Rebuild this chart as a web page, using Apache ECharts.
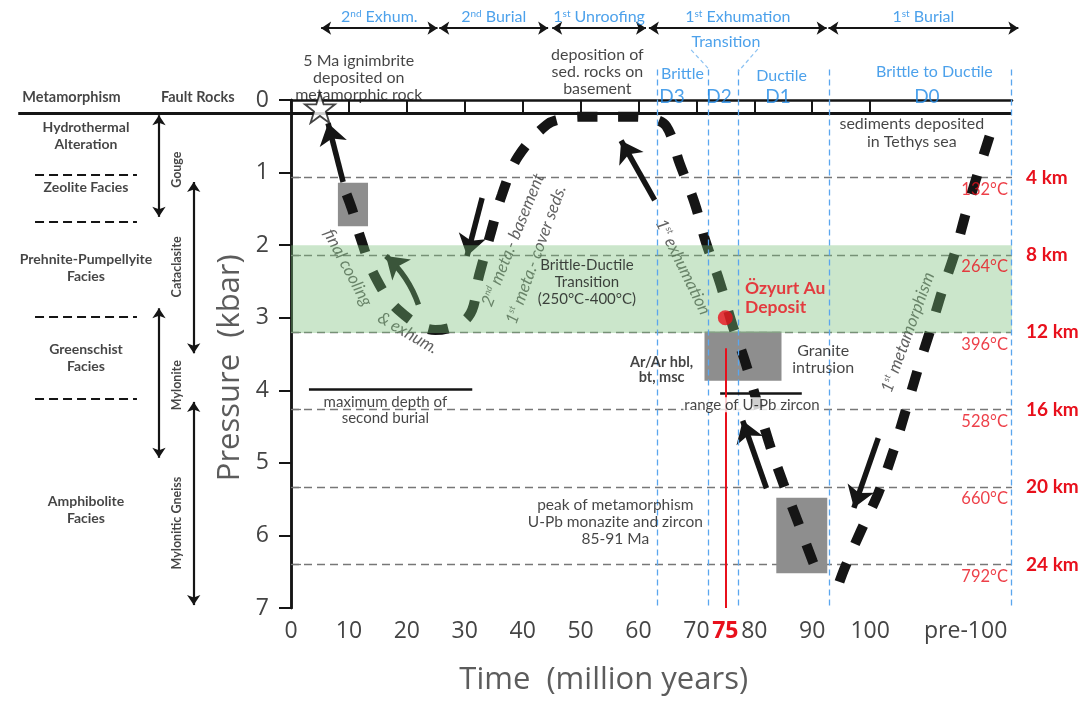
<!DOCTYPE html>
<html>
<head>
<meta charset="utf-8">
<script src="https://cdn.jsdelivr.net/npm/echarts@6/dist/echarts.min.js"></script>
<style>
  html, body { margin: 0; padding: 0; background: #fff; }
  #chart { width: 1086px; height: 702px; }
</style>
</head>
<body>
<div id="chart"></div>
<script>
// ---- axes -------------------------------------------------------------
const AGE_MAX = 124.5;          // right edge of the time axis (pre-100 zone)
const P_MAX = 7;                // kbar
const KM_MAX = 26.25;           // depth equivalent of P_MAX
const ageTicks = [0, 10, 20, 30, 40, 50, 60, 70, 80, 90, 100];
const ageLabelValues = [0, 10, 20, 30, 40, 50, 60, 70, 75, 80, 90, 100, 116.5];
const depthKm = [4, 8, 12, 16, 20, 24];
const depthTempC = [132, 264, 396, 528, 660, 792];

// ---- pressure-time paths (age in Ma, pressure in kbar) ------------------
// 2nd exhumation <- 2nd burial <- 1st unroofing <- 1st exhumation
const pathAge = [9.6, 10.6, 12.0, 14.5, 18.5, 24.9, 30.6, 32.5, 34.4, 36.4, 39.2, 44.2, 47.5, 50.8, 58.0, 62.0,
                 64.8, 67.1, 69.7, 71.6, 74.0, 76.3, 78.4, 82.5, 85.0, 87.6, 90.1, 90.7];
const pathP   = [1.30, 1.52, 1.90, 2.43, 2.89, 3.17, 2.99, 2.41, 1.86, 1.31, 0.78, 0.34, 0.25, 0.23, 0.23, 0.25,
                 0.36, 0.87, 1.42, 1.95, 2.50, 3.12, 3.60, 4.71, 5.28, 5.83, 6.36, 6.47];
// 1st burial (prograde metamorphism)
const burialAge = [94.7, 95.6, 98.5, 101.4, 104.0, 106.1, 108.4, 110.4, 112.4, 114.7, 116.7, 118.95, 121.25, 121.6];
const burialP   = [6.64, 6.45, 5.92, 5.42, 4.84, 4.29, 3.67, 3.17, 2.64, 2.09, 1.51, 0.92, 0.34, 0.24];

// ---- dated boxes [age1, P1, age2, P2] ----------------------------------
const boxes = [
  [8.1, 1.14, 13.3, 1.74],     // 5-13 Ma cooling
  [71.4, 3.19, 84.7, 3.87],    // granite intrusion / Ar-Ar
  [83.8, 5.48, 92.6, 6.52]     // peak metamorphism 85-91 Ma
];
const brittleDuctileBand = [[0, 2.0, AGE_MAX, 3.21]];
const deposit = [[75, 3.0]];
const ignimbrite = [[5, 0.11]];

// ---- process arrows [age1, P1, age2, P2, curveness] --------------------
const arrows = [
  [9.0, 1.13, 6.4, 0.32, 0],
  [22.0, 2.82, 16.4, 2.15, -0.13],
  [33.0, 1.35, 30.4, 2.15, 0],
  [62.8, 1.38, 57.0, 0.56, 0],
  [82.1, 5.35, 78.0, 4.42, 0],
  [101.4, 4.66, 97.2, 5.62, 0]
];

// ---- stage divisions (Ma) ----------------------------------------------
const stageBounds = [63.2, 72.1, 77.3, 92.9, 124.3];
const stageNames = ['2{s|nd} Exhum.', '2{s|nd} Burial', '1{s|st} Unroofing', '1{s|st} Exhumation', '1{s|st} Burial'];
const stageSpans = [[5.2, 25.3], [25.6, 44.4], [45.1, 61.3], [61.8, 92.5], [92.8, 125.6]];

const BLUE = '#1f8ae6';
const RED = '#e8101c';
const INK = '#151515';
const SANS = 'Lato, "Noto Sans", sans-serif';
const AXF = '"Open Sans", "Noto Sans", sans-serif';
const HEAD_Y = -1.14, ARROW_Y = -0.99, TOP_LINE_Y = 0.18;

function txt(x, y, text, o) {
  o = o || {};
  return {
    value: [x, y],
    label: Object.assign({
      show: true, position: 'inside', formatter: text, color: INK,
      fontFamily: SANS, fontSize: 15, align: 'center', verticalAlign: 'middle',
      rich: { s: { fontSize: 9, verticalAlign: 'top', lineHeight: 12, color: o.color || INK, fontFamily: SANS } }
    }, o)
  };
}

// ---- text annotations ---------------------------------------------------
const texts = [];
stageNames.forEach((n, i) => {
  const c = (stageSpans[i][0] + stageSpans[i][1]) / 2;
  texts.push(txt(c, HEAD_Y, n, { color: BLUE, fontSize: 16,
    rich: { s: { fontSize: 10, verticalAlign: 'top', color: BLUE, fontFamily: SANS } } }));
});
texts.push(txt(75.1, -0.80, 'Transition', { color: BLUE, fontSize: 16 }));
texts.push(txt(67.6, -0.36, 'Brittle', { color: BLUE, fontSize: 16 }));
texts.push(txt(84.7, -0.33, 'Ductile', { color: BLUE, fontSize: 16 }));
texts.push(txt(111.1, -0.39, 'Brittle to Ductile', { color: BLUE, fontSize: 16 }));
[['D3', 65.8], ['D2', 73.9], ['D1', 84.1], ['D0', 109.8]].forEach(d =>
  texts.push(txt(d[1], -0.04, d[0], { color: BLUE, fontSize: 19 })));
texts.push(txt(52.9, -0.39, 'deposition of\nsed. rocks on\nbasement', { fontSize: 16, lineHeight: 17 }));
texts.push(txt(11.7, -0.30, '5 Ma ignimbrite\ndeposited on\nmetamorphic rock', { fontSize: 16, lineHeight: 17 }));
texts.push(txt(-37.9, -0.04, 'Metamorphism', { fontSize: 14.5, fontWeight: 'bold' }));
texts.push(txt(-16.1, -0.04, 'Fault Rocks', { fontSize: 14.5, fontWeight: 'bold' }));
// metamorphic facies
[['Hydrothermal\nAlteration', 0.50], ['Zeolite Facies', 1.21], ['Prehnite-Pumpellyite\nFacies', 2.32],
 ['Greenschist\nFacies', 3.55], ['Amphibolite\nFacies', 5.65]].forEach(f =>
  texts.push(txt(-35.4, f[1], f[0], { fontSize: 14, fontWeight: 'bold', lineHeight: 17 })));
// fault rocks
[['Gouge', 0.96], ['Cataclasite', 2.30], ['Mylonite', 3.93], ['Mylonitic Gneiss', 5.83]].forEach(f =>
  texts.push(txt(-19.7, f[1], f[0], { fontSize: 12.5, fontWeight: 'bold', rotate: 90 })));
texts.push(txt(-10.5, 3.69, 'Pressure  (kbar)', { fontFamily: AXF, fontSize: 31, color: '#333', rotate: 90 }));
texts.push(txt(54, 7.99, 'Time  (million years)', { fontFamily: AXF, fontSize: 31, color: '#333' }));
// plot notes
texts.push(txt(51.1, 2.51, 'Brittle-Ductile\nTransition\n(250°C-400°C)', { fontSize: 15, lineHeight: 17 }));
texts.push(txt(16.3, 4.27, 'maximum depth of\nsecond burial', { fontSize: 15, lineHeight: 16 }));
texts.push(txt(79.6, 4.20, 'range of U-Pb zircon', { fontSize: 15, backgroundColor: '#fff', padding: [0, 1, 0, 1] }));
texts.push(txt(64.0, 3.72, 'Ar/Ar hbl,\nbt, msc', { fontSize: 14.5, fontWeight: 'bold', lineHeight: 15 }));
texts.push(txt(91.9, 3.58, 'Granite\nintrusion', { fontSize: 16, lineHeight: 17 }));
texts.push(txt(78.4, 2.72, 'Özyurt Au\nDeposit', { fontSize: 17.5, fontWeight: 'bold', color: RED, align: 'left', lineHeight: 19 }));
texts.push(txt(107.2, 0.455, 'sediments deposited\nin Tethys sea', { fontSize: 16, lineHeight: 18 }));
texts.push(txt(56.0, 5.815, 'peak of metamorphism\nU-Pb monazite and zircon\n85-91 Ma', { fontSize: 15.5, lineHeight: 17 }));

// italic path captions (drawn under the brittle-ductile band)
const IT = { fontSize: 17, fontStyle: 'italic', color: '#3a3a3a' };
const captions = [
  txt(67.7, 2.30, '1{s|st} exhumation', Object.assign({ rotate: -64 }, IT)),
  txt(106.5, 3.20, '1{s|st} metamorphism', Object.assign({ rotate: 70 }, IT)),
  txt(38.3, 1.93, '2{s|nd} meta.- basement', Object.assign({ rotate: 68 }, IT)),
  txt(42.3, 2.13, '1{s|st} meta.- cover seds.', Object.assign({ rotate: 70 }, IT)),
  txt(9.8, 2.31, 'final cooling', Object.assign({ rotate: -62 }, IT)),
  txt(20.2, 3.21, '& exhum.', Object.assign({ rotate: -30 }, IT))
];

// temperatures under each depth line
const tempTexts = depthKm.map((km, i) => ({
  value: [123.8, km + 0.62],
  label: { show: true, position: 'inside', formatter: depthTempC[i] + '°C', color: RED,
           fontFamily: SANS, fontSize: 16.5, align: 'right', verticalAlign: 'middle' }
}));

// ---- plain reference lines ----------------------------------------------
const seg = (x1, y1, x2, y2, ls) => ({ coords: [[x1, y1], [x2, y2]], lineStyle: Object.assign({ opacity: 1 }, ls) });
const plainLines = [];
plainLines.push(seg(-47.1, TOP_LINE_Y, AGE_MAX, TOP_LINE_Y, { color: INK, width: 3 }));
stageBounds.forEach(a => plainLines.push(seg(a, -0.42, a, P_MAX, { color: '#5aa6ee', width: 1.3, type: [6, 4] })));
plainLines.push(seg(69.1, -0.69, 72.0, -0.44, { color: '#8cc2f2', width: 1.2, type: [4, 3] }));
plainLines.push(seg(80.6, -0.70, 77.2, -0.39, { color: '#8cc2f2', width: 1.2, type: [4, 3] }));
[1.03, 1.68, 2.98, 4.11].forEach(p => plainLines.push(seg(-44.2, p, -26.6, p, { color: INK, width: 1.8, type: [9, 5] })));
plainLines.push(seg(3.1, 3.98, 31.3, 3.98, { color: INK, width: 2.5 }));
plainLines.push(seg(74.1, 4.04, 88.2, 4.04, { color: INK, width: 2.5 }));

const redLine = [seg(75, 3.42, 75, P_MAX, { color: RED, width: 2 })];

// ---- double-headed range arrows -----------------------------------------
const rangeArrows = stageSpans.map(s => seg(s[0], ARROW_Y, s[1], ARROW_Y, { color: INK, width: 2 }));
[[-22.8, 0.21, 1.61], [-16.8, 1.13, 3.49], [-22.8, 2.87, 4.93], [-16.8, 4.16, 6.96]].forEach(r =>
  rangeArrows.push(seg(r[0], r[1], r[0], r[2], { color: INK, width: 2.2 })));

const chart = echarts.init(document.getElementById('chart'), null, { renderer: 'canvas' });

const rectItem = fill => (params, api) => {
  const p1 = api.coord([api.value(0), api.value(1)]);
  const p2 = api.coord([api.value(2), api.value(3)]);
  return { type: 'rect',
    shape: { x: Math.min(p1[0], p2[0]), y: Math.min(p1[1], p2[1]),
             width: Math.abs(p2[0] - p1[0]), height: Math.abs(p2[1] - p1[1]) },
    style: { fill: fill } };
};

const pathStyle = { color: INK, width: 10, type: [20, 21], cap: 'butt' };

chart.setOption({
  animation: false,
  backgroundColor: '#fff',
  grid: { left: 291, top: 100, width: 721, height: 508, containLabel: false },
  xAxis: [{
    type: 'value', min: 0, max: AGE_MAX, position: 'bottom',
    axisLine: { lineStyle: { color: INK, width: 2.5 } },
    axisTick: { length: 10, lineStyle: { color: INK, width: 2 }, customValues: ageTicks },
    axisLabel: {
      customValues: ageLabelValues, margin: 12, fontFamily: AXF, fontSize: 23, color: '#444',
      formatter: v => v === 75 ? '{r|75}' : (v > 100 ? 'pre-100' : String(v)),
      rich: { r: { color: RED, fontSize: 23, fontWeight: 'bold', fontFamily: AXF } }
    },
    splitLine: { show: false }
  }, {
    type: 'value', min: 0, max: AGE_MAX, position: 'top',
    axisLine: { show: false },
    axisTick: { inside: true, length: 13, lineStyle: { color: INK, width: 2 }, customValues: ageTicks.slice(1) },
    axisLabel: { show: false }, splitLine: { show: false }
  }],
  yAxis: [{
    type: 'value', min: 0, max: P_MAX, interval: 1, inverse: true, position: 'left',
    axisLine: { show: true, lineStyle: { color: INK, width: 2.5 } },
    axisTick: { show: true, length: 12, lineStyle: { color: INK, width: 2 } },
    axisLabel: { margin: 22, fontFamily: AXF, fontSize: 23, color: '#444' },
    splitLine: { show: false }
  }, {
    type: 'value', min: 0, max: KM_MAX, inverse: true, position: 'right',
    axisLine: { show: true, lineStyle: { color: INK, width: 2.5 } },
    axisTick: { show: true, length: 10, lineStyle: { color: '#777', width: 1.3 }, customValues: depthKm },
    axisLabel: { customValues: depthKm, margin: 14, formatter: v => v + ' km', color: RED,
                 fontFamily: SANS, fontSize: 19, fontWeight: 'bold' },
    splitLine: { show: true, showMinLine: true, showMaxLine: true,
                 lineStyle: { color: '#777', width: 1.3, type: [8, 5] } }
  }],
  series: [
    { type: 'custom', name: 'dated ranges', z: 1, silent: true, clip: false,
      renderItem: rectItem('#8e8e8e'), data: boxes },
    { type: 'line', name: 'P-T-t path', z: 2, silent: true, smooth: 0.35, symbol: 'none',
      data: pathAge.map((a, i) => [a, pathP[i]]), lineStyle: pathStyle },
    { type: 'line', name: '1st burial', z: 2, silent: true, smooth: 0.35, symbol: 'none',
      data: burialAge.map((a, i) => [a, burialP[i]]), lineStyle: pathStyle },
    { type: 'lines', name: 'process arrows', coordinateSystem: 'cartesian2d', z: 2, silent: true, clip: false,
      symbol: ['none', 'arrow'], symbolSize: 21,
      data: arrows.map(a => ({ coords: [[a[0], a[1]], [a[2], a[3]]],
                                lineStyle: { color: INK, width: 5.5, curveness: a[4], opacity: 1 } })) },
    { type: 'scatter', name: 'path captions', z: 2, silent: true, clip: false, symbolSize: 0, data: captions },
    { type: 'custom', name: 'brittle-ductile transition', z: 3, silent: true,
      renderItem: rectItem('rgba(118,190,118,0.38)'), data: brittleDuctileBand },
    { type: 'lines', name: 'frame', coordinateSystem: 'cartesian2d', z: 4, silent: true, clip: false,
      symbol: 'none', data: plainLines },
    { type: 'lines', name: 'ranges', coordinateSystem: 'cartesian2d', z: 4, silent: true, clip: false,
      symbol: ['arrow', 'arrow'], symbolSize: 10, data: rangeArrows },
    { type: 'lines', name: '75 Ma', coordinateSystem: 'cartesian2d', z: 4, silent: true, clip: false,
      symbol: 'none', data: redLine },
    { type: 'scatter', name: 'notes', z: 5, silent: true, clip: false, symbolSize: 0, data: texts },
    { type: 'scatter', name: 'temperatures', yAxisIndex: 1, z: 5, silent: true, clip: false, symbolSize: 0, data: tempTexts },
    { type: 'scatter', name: 'Özyurt Au deposit', z: 6, silent: true, symbolSize: 15,
      itemStyle: { color: RED }, data: deposit },
    { type: 'scatter', name: '5 Ma ignimbrite', z: 6, silent: true, clip: false, symbolSize: 30,
      symbol: 'path://M50,2 L61.5,36 L97,36 L68.5,57.5 L79.5,92 L50,71 L20.5,92 L31.5,57.5 L3,36 L38.5,36 Z',
      itemStyle: { color: '#fff', borderColor: INK, borderWidth: 1.8 }, data: ignimbrite }
  ]
});
</script>
</body>
</html>
